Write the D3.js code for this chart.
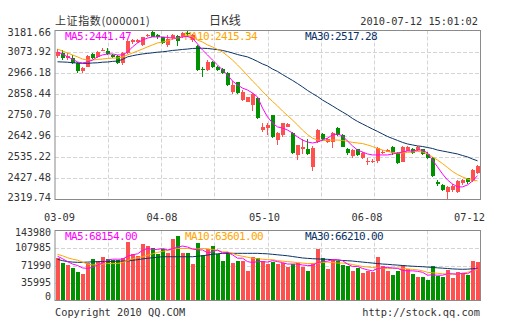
<!DOCTYPE html>
<html><head><meta charset="utf-8">
<script src="https://cdn.jsdelivr.net/npm/d3@7"></script>
<style>body{margin:0;background:#fff}svg{display:block}</style>
</head><body>
<script>
const dateLabels = ["03-09","04-08","05-10","06-08","07-12"];
const dateIdx = [0,21,42,63,84];
const priceTicks = ["3181.66","3073.92","2966.18","2858.44","2750.70","2642.96","2535.22","2427.48","2319.74"];
const volTicks = ["143980","107985","71990","35995","0"];

const open  = [3053,3065,3040,3043,3014,2975,2997,3060,3045,3080,3077,3057,3052,3018,3065,3121,3123,3108,3157,3175,3158,3147,3110,3142,3154,3150,3170,3133,3102,2983,2980,3019,2997,2984,2966,2870,2917,2827,2818,2802,2836,2674,2684,2750,2623,2649,2691,2660,2547,2575,2576,2487,2614,2654,2614,2614,2683,2649,2575,2542,2575,2530,2512,2511,2518,2559,2563,2589,2555,2513,2568,2575,2572,2575,2552,2530,2410,2394,2359,2368,2359,2402,2427,2414,2456];
const close = [3070,3040,3050,3018,2975,2989,3052,3040,3074,3083,3060,3048,3018,3065,3128,3133,3133,3147,3159,3150,3147,3118,3140,3159,3130,3167,3166,3158,2980,2978,3022,2997,2980,2963,2904,2904,2864,2870,2841,2858,2735,2691,2699,2640,2659,2710,2704,2555,2598,2589,2550,2581,2674,2627,2627,2657,2649,2589,2558,2572,2547,2555,2514,2514,2581,2561,2572,2555,2507,2589,2585,2558,2589,2552,2530,2440,2398,2368,2382,2390,2415,2419,2410,2470,2490];
const high  = [3085,3082,3068,3057,3020,2995,3055,3066,3078,3090,3090,3062,3055,3072,3132,3140,3137,3150,3163,3178,3163,3150,3160,3165,3160,3172,3181.66,3165,3110,2997,3030,3025,3000,2990,2970,2925,2920,2880,2845,2862,2840,2710,2710,2753,2665,2712,2712,2665,2600,2628,2628,2592,2680,2660,2635,2665,2690,2652,2580,2575,2578,2560,2530,2525,2585,2570,2578,2595,2560,2592,2592,2580,2595,2578,2560,2535,2420,2398,2388,2400,2420,2425,2430,2475,2495];
const low   = [3043,3031,3030,3011,2963,2963,2995,3035,3040,3075,3055,3043,3010,3005,3062,3115,3118,3105,3150,3147,3140,3113,3100,3135,3103,3145,3150,3125,2975,2946,2975,2990,2975,2958,2900,2858,2860,2820,2815,2770,2730,2664,2650,2635,2600,2640,2688,2550,2522,2551,2545,2463,2610,2620,2610,2580,2645,2585,2545,2531,2540,2525,2497,2505,2504,2550,2560,2548,2500,2510,2565,2550,2568,2545,2525,2435,2390,2362,2319.74,2360,2355,2395,2400,2410,2450];

const ma5  = [3072,3062,3047,3036,3021,3016,3021,3031,3047,3057,3062,3062,3057,3057,3072,3098,3118,3133,3143,3149,3149,3149,3146,3143,3143,3149,3151,3143,3113,3082,3057,3031,3006,2980,2955,2924,2904,2888,2878,2863,2843,2786,2741,2710,2690,2684,2674,2659,2639,2623,2613,2608,2613,2623,2633,2649,2654,2644,2618,2593,2572,2562,2552,2547,2547,2547,2547,2552,2557,2562,2567,2567,2572,2572,2557,2521,2486,2450,2419,2399,2384,2384,2394,2414,2441.47];
const ma10 = [3087,3077,3067,3057,3047,3036,3031,3031,3034,3036,3039,3041,3041,3047,3057,3067,3077,3087,3098,3108,3118,3123,3128,3138,3143,3151,3156,3149,3133,3123,3108,3098,3085,3072,3052,3031,3006,2980,2952,2924,2899,2871,2845,2820,2797,2771,2748,2725,2700,2674,2651,2633,2623,2621,2621,2623,2623,2621,2616,2611,2608,2605,2598,2590,2580,2572,2565,2560,2557,2557,2560,2562,2565,2562,2552,2537,2521,2503,2483,2463,2447,2435,2424,2417,2415.34];
const ma30 = [3022,3021,3020,3017,3016,3014,3014,3016,3017,3020,3021,3024,3026,3034,3047,3053,3058,3062,3065,3068,3071,3073,3076,3080,3082,3085,3087,3090,3091,3091,3090,3087,3084,3080,3074,3067,3059,3053,3047,3036,3024,3011,3001,2985,2973,2957,2942,2927,2911,2894,2876,2860,2845,2827,2812,2797,2781,2766,2751,2733,2718,2705,2692,2679,2667,2654,2641,2631,2621,2611,2603,2598,2593,2590,2585,2580,2572,2567,2562,2557,2552,2544,2537,2526,2517.28];

const volume = [86700,77700,73000,67500,59300,54600,76500,84700,81800,90000,85300,83200,83200,86700,120700,94900,92000,115300,112500,108400,95500,105700,96900,126200,133000,96900,96900,75000,118600,93500,105000,111900,94900,81800,99000,77700,81800,81800,61400,88800,87300,81800,75000,79800,75000,77000,68300,75000,77700,68300,61400,77700,105000,87300,64800,83200,81800,73000,70300,61400,66900,57300,60100,59400,88800,70300,61400,51900,61400,73000,64800,54600,47900,47900,41700,70300,49900,47900,62800,46400,58000,57300,51900,80600,78500];
const vma5  = [91000,86000,80000,75000,72000,67000,66000,68000,73000,77000,83000,85000,85000,85000,91000,94000,96000,103000,107000,105000,105000,107000,104000,106000,110000,112000,110000,106000,104000,104000,98000,100000,104000,98000,99000,94000,87000,87000,80000,78000,80000,80000,79000,82000,80000,78000,75000,75000,75000,73000,72000,72000,78000,80000,81000,84000,84000,82000,75000,70000,70000,66000,63000,61000,66000,67000,68000,67000,66000,62000,61000,61000,60000,58000,52000,53000,52000,52000,55000,55000,54000,56000,55000,61000,68154];
const vma10 = [95000,92000,88000,85000,83000,79000,75000,73000,74000,75000,76000,76000,76000,78000,82000,86000,88000,90000,93000,96000,99000,101000,103000,105000,107000,107000,107000,106000,106000,107000,106000,105000,103000,100000,100000,97000,93000,91000,89000,87000,86000,85000,84000,84000,82000,81000,80000,79000,78000,77000,76000,76000,77000,78000,79000,78000,77000,77000,76000,74000,72000,70000,69000,68000,67000,66000,66000,66000,67000,66000,65000,64000,63000,61000,58000,57000,56000,55000,54000,54000,54000,56000,58000,61000,63601];
const vma30 = [84700,82000,80000,79000,78500,78500,79000,79500,79800,80000,80300,80600,80900,81100,81200,82500,84000,85500,86700,88000,89000,90000,90000,90000,90000,90000,90000,90000,91000,92000,93500,95000,96000,97000,97000,97000,97000,97000,97000,97000,97000,96500,96000,95000,94000,93000,92000,90500,89000,87500,86700,86000,85500,85000,84700,84000,83000,82300,81800,81200,80000,79000,78000,77000,76000,75000,74400,73500,72800,72000,71200,70500,70000,69500,68800,68000,67200,66500,65800,65000,64500,64200,64500,65300,66210];

const maLegend = ["MA5:2441.47","MA10:2415.34","MA30:2517.28"];
const volLegend = ["MA5:68154.00","MA10:63601.00","MA30:66210.00"];
const title = "上证指数(000001)";
const subtitle = "日K线";
const stamp = "2010-07-12 15:01:02";

const W=505,H=330;
const L=55,R=480.5,PT=30.5,PB=199.5,VT=230.5,VB=300.5;
const RED="#ff5050",GREEN="#009100",C5="#ff00ff",C10="#ffa500",C30="#0a3366",GRID="#d4d4d4",AX="#8a8a8a",TXT="#333";
const mono="'DejaVu Sans Mono', monospace";

const svg=d3.select("body").append("svg").attr("width",W).attr("height",H);
svg.append("rect").attr("width",W).attr("height",H).attr("fill","#fff");

const n=close.length;
const x=d3.scaleLinear().domain([-0.5,n-0.5]).range([L,R-0.5]);
const y=d3.scaleLinear().domain([+priceTicks[8],+priceTicks[0]]).range([PB,PT]);
const yv=d3.scaleLinear().domain([0,+volTicks[0]]).range([VB,VT]);
const xl=d3.scaleLinear().domain([0,84]).range([59.5,469.5]);

function grid(top,bot,ticks,sc){
  const g=svg.append("g");
  for(let k=1;k<8;k++){
    const gx=Math.round(L+k*(R-0.5-L)/8)+0.5;
    g.append("line").attr("x1",gx).attr("x2",gx).attr("y1",top).attr("y2",bot)
     .attr("stroke",GRID).attr("stroke-dasharray","4,2");
  }
  ticks.slice(1,-1).forEach(t=>{
    const gy=Math.round(sc(+t))+0.5;
    g.append("line").attr("x1",L).attr("x2",R).attr("y1",gy).attr("y2",gy)
     .attr("stroke",GRID).attr("stroke-dasharray","4,2");
  });
}
grid(PT,PB,priceTicks,y);
grid(VT,VB,volTicks,yv);

function legend(arr,ty){
  const xs=[65,185,305], cs=[C5,C10,C30];
  arr.forEach((t,i)=>svg.append("text").attr("x",xs[i]).attr("y",ty).attr("fill",cs[i])
    .attr("font-family",mono).attr("font-size",11).attr("letter-spacing",-0.62)
    .attr("dominant-baseline","middle").text(t));
}
legend(maLegend,36.5);
legend(volLegend,236.5);

const cg=svg.append("g").attr("shape-rendering","crispEdges");
d3.range(n).forEach(i=>{
  const up=close[i]>=open[i];
  const col=up?RED:GREEN;
  const cx=x(i);
  cg.append("rect").attr("x",cx-0.5).attr("width",1).attr("y",y(high[i])).attr("height",Math.max(1,y(low[i])-y(high[i]))).attr("fill",col);
  const t=y(Math.max(open[i],close[i])), b=y(Math.min(open[i],close[i]));
  cg.append("rect").attr("x",cx-2).attr("width",4).attr("y",t).attr("height",Math.max(1,b-t)).attr("fill",col);
  cg.append("rect").attr("x",cx-2).attr("width",4).attr("y",yv(volume[i])).attr("height",VB-yv(volume[i])).attr("fill",col);
});

function line(arr,sc,col){
  svg.append("path").datum(arr).attr("fill","none").attr("stroke",col).attr("stroke-width",1)
   .attr("d",d3.line().x((d,i)=>x(i)).y(d=>sc(d)));
}
line(ma30,y,C30);line(ma10,y,C10);line(ma5,y,C5);
line(vma30,yv,C30);line(vma10,yv,C10);line(vma5,yv,C5);

[[PT,PB],[VT,VB]].forEach(([t,b])=>{
  svg.append("rect").attr("x",L).attr("y",t).attr("width",R-L).attr("height",b-t)
   .attr("fill","none").attr("stroke",AX).attr("stroke-width",1);
});

priceTicks.forEach((t,k)=>{
  let ty=y(+t); ty=Math.max(PT+2.5,Math.min(PB-1.5,ty));
  svg.append("text").attr("x",51).attr("y",ty).attr("text-anchor","end").attr("dominant-baseline","middle")
   .attr("font-family",mono).attr("font-size",10.3).attr("fill",TXT).text(t);
});
volTicks.forEach((t,k)=>{
  let ty=yv(+t); ty=Math.max(VT+2,Math.min(VB-4,ty));
  svg.append("text").attr("x",51).attr("y",ty).attr("text-anchor","end").attr("dominant-baseline","middle")
   .attr("font-family",mono).attr("font-size",10).attr("fill",TXT).text(t);
});
dateLabels.forEach((d,k)=>{
  svg.append("text").attr("x",xl(dateIdx[k])).attr("y",217.5).attr("text-anchor","middle").attr("dominant-baseline","middle")
   .attr("font-family",mono).attr("font-size",10.3).attr("fill",TXT).text(d);
});

svg.append("text").attr("x",55).attr("y",22).attr("dominant-baseline","middle").attr("fill",TXT)
  .attr("font-family","'Noto Sans CJK SC', "+mono).attr("font-size",11).attr("letter-spacing",0.6).text(title);
svg.append("text").attr("x",225).attr("y",22).attr("text-anchor","middle").attr("dominant-baseline","middle").attr("fill",TXT)
  .attr("font-family","'Noto Sans CJK SC', sans-serif").attr("font-size",12).text(subtitle);
svg.append("text").attr("x",478).attr("y",22).attr("text-anchor","end").attr("dominant-baseline","middle").attr("fill",TXT)
  .attr("font-family",mono).attr("font-size",10.3).text(stamp);
svg.append("text").attr("x",55).attr("y",313).attr("dominant-baseline","middle").attr("fill",TXT)
  .attr("font-family",mono).attr("font-size",10.3).text("Copyright 2010 QQ.COM");
svg.append("text").attr("x",480).attr("y",313).attr("text-anchor","end").attr("dominant-baseline","middle").attr("fill",TXT)
  .attr("font-family",mono).attr("font-size",10.3).text("http://stock.qq.com");
</script>
</body></html>
